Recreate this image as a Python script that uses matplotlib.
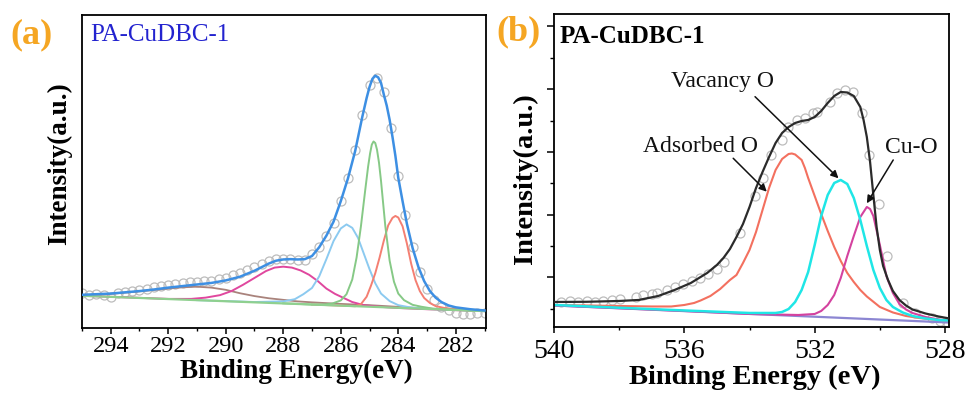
import matplotlib
matplotlib.use("Agg")
import matplotlib.pyplot as plt
from matplotlib.ticker import MultipleLocator

plt.rcParams['font.family'] = ['Liberation Serif', 'DejaVu Serif']

# ---------------- panel (a): C 1s ----------------
c_raw_x = [295.0, 294.75, 294.5, 294.25, 294.0, 293.75, 293.5, 293.25, 293.0, 292.75,
           292.5, 292.25, 292.0, 291.75, 291.5, 291.25, 291.0, 290.75, 290.5, 290.25,
           290.0, 289.75, 289.5, 289.25, 289.0, 288.75, 288.5, 288.25, 288.0, 287.75,
           287.5, 287.25, 287.0, 286.75, 286.5, 286.25, 286.0, 285.75, 285.5, 285.25,
           285.0, 284.75, 284.5, 284.25, 284.0, 283.75, 283.5, 283.25, 283.0, 282.75,
           282.5, 282.25, 282.0, 281.75, 281.5, 281.25, 281.0]
c_raw_y = [11.1, 10.4, 10.9, 10.7, 9.9, 11.1, 11.6, 11.9, 12.3, 12.6,
           13.0, 13.4, 13.7, 14.0, 14.3, 14.6, 14.7, 15.0, 15.1, 15.6,
           16.0, 16.8, 17.5, 18.4, 19.4, 20.5, 21.3, 21.9, 22.2, 22.1,
           21.8, 21.8, 23.6, 26.0, 29.5, 33.7, 40.5, 48.0, 57.0, 68.0,
           77.5, 80.0, 75.5, 64.0, 48.5, 36.0, 26.0, 17.8, 12.4, 9.0,
           6.8, 5.6, 4.8, 4.6, 4.6, 4.7, 4.8]

c_fit_x = [295.0, 294.5, 294.0, 293.5, 293.0, 292.5, 292.0, 291.5, 291.0, 290.5,
           290.0, 289.5, 289.0, 288.5, 288.25, 288.0, 287.75, 287.5, 287.25, 287.0,
           286.75, 286.5, 286.25, 286.0, 285.75, 285.5, 285.25, 285.1, 285.0, 284.9,
           284.8, 284.7, 284.6, 284.5, 284.4, 284.3, 284.2, 284.1, 284.0, 283.85,
           283.7, 283.5, 283.3, 283.1, 282.9, 282.7, 282.5, 282.25, 282.0, 281.5, 281.0]
c_fit_y = [10.6, 10.8, 11.0, 11.4, 11.8, 12.3, 12.9, 13.4, 13.9, 14.4,
           15.2, 16.4, 18.3, 20.6, 21.5, 21.9, 22.0, 21.9, 22.0, 23.0,
           25.8, 29.5, 34.0, 40.5, 47.8, 56.5, 67.5, 73.5, 77.0, 79.6,
           80.6, 80.1, 78.3, 74.5, 71.0, 66.5, 61.0, 55.0, 48.0, 40.5,
           33.3, 25.5, 19.5, 15.0, 11.8, 9.7, 8.3, 7.2, 6.6, 6.0, 5.6]

c_base_x = [295.0, 281.0]
c_base_y = [10.3, 5.4]

c_red_x = [287.0, 286.0, 285.5, 285.3, 285.1, 284.95, 284.8, 284.65, 284.5, 284.35,
           284.2, 284.1, 284.0, 283.85, 283.7, 283.55, 283.4, 283.25, 283.1, 282.9,
           282.7, 282.4, 282.0, 281.5, 281.0]
c_red_y = [7.5, 7.15, 6.95, 7.6, 10.0, 13.5, 17.5, 22.5, 28.0, 32.8,
           35.2, 35.8, 35.3, 32.5, 27.0, 20.5, 15.3, 11.8, 9.6, 8.0,
           7.0, 6.4, 6.0, 5.6, 5.4]

c_green_x = [288.0, 287.0, 286.6, 286.3, 286.0, 285.8, 285.6, 285.45, 285.3, 285.15,
             285.05, 284.98, 284.92, 284.86, 284.8, 284.74, 284.67, 284.6, 284.45, 284.3,
             284.15, 284.0, 283.8, 283.5, 283.2, 282.8, 282.0, 281.0]
c_green_y = [7.9, 7.5, 7.5, 7.8, 8.8, 10.8, 15.5, 22.5, 32.4, 44.0,
             51.5, 55.8, 58.6, 59.6, 59.1, 57.0, 52.8, 47.0, 32.5, 21.5,
             14.8, 11.0, 8.9, 7.4, 6.8, 6.2, 5.8, 5.4]

c_lblue_x = [291.0, 290.0, 289.0, 288.0, 287.6, 287.3, 287.0, 286.75, 286.5, 286.25,
             286.0, 285.8, 285.6, 285.4, 285.2, 285.0, 284.8, 284.6, 284.3, 284.0,
             283.6, 283.0, 282.0, 281.0]
c_lblue_y = [8.9, 8.6, 8.3, 8.5, 9.2, 10.8, 12.8, 16.5, 22.0, 27.8,
             31.8, 33.1, 32.0, 28.8, 23.8, 18.8, 14.3, 11.0, 8.6, 7.3,
             6.6, 6.1, 5.8, 5.4]

c_mag_x = [295.0, 293.5, 292.0, 291.2, 290.7, 290.2, 289.8, 289.4, 289.0, 288.6,
           288.3, 288.0, 287.7, 287.4, 287.1, 286.8, 286.5, 286.2, 285.9, 285.6,
           285.2, 284.7, 284.0, 283.0, 282.0, 281.0]
c_mag_y = [10.3, 9.8, 9.3, 9.3, 9.7, 10.5, 11.8, 13.8, 16.0, 18.2,
           19.3, 19.6, 19.3, 18.4, 17.0, 15.0, 12.6, 10.9, 9.6, 8.3,
           7.3, 6.8, 6.4, 6.0, 5.7, 5.4]

c_brown_x = [295.0, 294.0, 293.0, 292.0, 291.5, 291.0, 290.5, 290.0, 289.5, 289.0,
             288.5, 288.0, 287.5, 287.0, 286.0, 285.0, 283.0, 281.0]
c_brown_y = [10.4, 10.9, 11.7, 12.6, 13.0, 13.2, 12.9, 12.2, 11.1, 10.2,
             9.5, 9.0, 8.5, 8.2, 7.7, 7.3, 6.2, 5.5]

# ---------------- panel (b): O 1s ----------------
o_raw_x = [539.79, 539.51, 539.25, 539.0, 538.74, 538.49, 538.23, 537.97, 537.49, 537.26,
           537.0, 536.85, 536.54, 536.29, 536.03, 535.77, 535.52, 535.26, 535.01, 534.77,
           534.29, 533.83, 533.58, 533.35, 533.01, 532.81, 532.55, 532.3, 532.04, 531.94,
           531.53, 531.3, 531.07, 530.81, 530.56, 530.32, 530.02, 529.77, 529.28, 528.92,
           528.41, 528.15, 527.95]
o_raw_y = [38.3, 39.0, 38.3, 39.3, 38.3, 39.0, 40.0, 40.7, 43.3, 45.0,
           46.0, 46.5, 50.0, 53.3, 56.0, 59.0, 62.0, 66.0, 70.5, 78.3,
           107.0, 144.0, 162.0, 185.0, 200.0, 213.0, 220.0, 221.7, 227.3, 228.3,
           238.3, 246.7, 250.0, 248.3, 227.0, 185.0, 136.0, 84.0, 36.7, 26.7,
           21.7, 19.3, 18.3]

o_fit_x = [540.0, 539.0, 538.0, 537.4, 536.8, 536.3, 535.8, 535.3, 535.0, 534.8,
           534.6, 534.4, 534.2, 534.0, 533.8, 533.6, 533.4, 533.2, 533.0, 532.8,
           532.6, 532.4, 532.2, 532.0, 531.8, 531.6, 531.4, 531.2, 531.0, 530.8,
           530.6, 530.5, 530.4, 530.3, 530.2, 530.1, 530.0, 529.9, 529.75, 529.6,
           529.4, 529.2, 529.0, 528.6, 528.2, 527.9]
o_fit_y = [38.0, 38.2, 39.0, 40.0, 44.0, 50.0, 57.0, 67.0, 75.0, 82.0,
           91.0, 103.0, 116.0, 133.0, 152.0, 168.0, 183.0, 197.0, 207.0, 213.0,
           217.0, 219.0, 220.0, 223.0, 229.0, 237.0, 244.0, 248.0, 247.5, 244.0,
           233.0, 220.0, 203.0, 178.0, 145.0, 113.0, 90.0, 74.0, 60.0, 49.0,
           40.0, 34.5, 30.5, 26.5, 23.5, 21.7]

o_base_x = [540.0, 527.9]
o_base_y = [34.5, 17.5]

o_ads_x = [540.0, 539.0, 538.0, 537.0, 536.4, 536.0, 535.7, 535.5, 535.2, 534.9,
           534.6, 534.4, 534.2, 534.0, 533.8, 533.6, 533.4, 533.2, 533.0, 532.8,
           532.7, 532.6, 532.4, 532.3, 532.2, 532.0, 531.8, 531.6, 531.4, 531.2,
           531.0, 530.8, 530.6, 530.4, 530.0, 529.6, 529.2, 528.8, 528.4, 527.9]
o_ads_y = [35.0, 34.5, 34.0, 33.5, 33.5, 35.0, 37.0, 39.5, 44.0, 51.0,
           60.0, 65.0, 77.0, 90.0, 108.0, 130.0, 152.0, 170.0, 181.0, 186.0,
           186.5, 185.5, 180.0, 172.0, 162.0, 144.0, 126.0, 109.0, 93.0, 79.0,
           67.0, 58.0, 50.0, 43.5, 33.0, 27.5, 24.0, 22.0, 20.5, 19.5]

o_vac_x = [540.0, 536.0, 534.0, 533.2, 533.0, 532.8, 532.6, 532.4, 532.2, 532.0,
           531.8, 531.6, 531.4, 531.2, 531.0, 530.8, 530.6, 530.4, 530.2, 530.0,
           529.8, 529.6, 529.3, 529.0, 528.6, 528.2, 527.9]
o_vac_y = [35.0, 29.5, 27.0, 27.0, 28.0, 31.0, 38.0, 50.0, 68.0, 95.0,
           124.0, 145.0, 157.0, 160.0, 156.0, 142.0, 120.0, 94.0, 70.0, 52.0,
           40.0, 33.0, 27.5, 24.0, 21.5, 20.0, 19.5]

o_cuo_x = [540.0, 536.0, 534.0, 532.5, 532.0, 531.8, 531.6, 531.4, 531.2, 531.0,
           530.8, 530.6, 530.4, 530.3, 530.2, 530.0, 529.8, 529.6, 529.4, 529.2,
           529.0, 528.6, 528.2, 527.9]
o_cuo_y = [34.5, 29.0, 26.0, 25.0, 26.0, 29.0, 35.0, 45.0, 62.0, 84.0,
           104.0, 123.0, 133.0, 131.0, 124.0, 95.0, 64.0, 47.0, 36.0, 30.5,
           27.0, 23.0, 20.5, 19.5]

# annotations: label text centre, arrow tail, arrow tip (data coords)
o_labels = ["Vacancy O", "Adsorbed O", "Cu-O"]
o_lab_pos = [(534.84, 258.3), (535.49, 193.3), (529.02, 192.0)]
o_tail = [(533.83, 243.3), (534.5, 181.7), (529.59, 180.0)]
o_tip = [(531.27, 161.7), (533.47, 148.3), (530.40, 136.7)]

fig = plt.figure(figsize=(9.7, 3.94), dpi=100)
ax1 = fig.add_axes([0.0845, 0.1675, 0.4165, 0.7944])
ax2 = fig.add_axes([0.5711, 0.1701, 0.4072, 0.7944])

raw_kw = dict(ls='none', marker='o', ms=6.5, mfc='none', mec='#bcbcbc', mew=0.9, zorder=1)

# panel a
ax1.plot(c_raw_x, c_raw_y, **raw_kw)
ax1.plot(c_brown_x, c_brown_y, color='#a9837c', lw=1.3, zorder=2)
ax1.plot(c_mag_x, c_mag_y, color='#e0479e', lw=1.4, zorder=2)
ax1.plot(c_lblue_x, c_lblue_y, color='#8ccaf0', lw=1.4, zorder=2)
ax1.plot(c_red_x, c_red_y, color='#f47f72', lw=1.4, zorder=2)
ax1.plot(c_green_x, c_green_y, color='#86c986', lw=1.4, zorder=2)
ax1.plot(c_base_x, c_base_y, color='#8fd08f', lw=1.6, zorder=2)
ax1.plot(c_fit_x, c_fit_y, color='#3d8fe3', lw=1.8, zorder=3)

ax1.set_xlim(295.0, 280.95)
ax1.set_ylim(0, 100)
ax1.xaxis.set_major_locator(MultipleLocator(2))
ax1.xaxis.set_minor_locator(MultipleLocator(1))
ax1.set_yticks([])
ax1.tick_params(axis='x', which='major', direction='out', length=4, width=1.1,
                labelsize=17.5, pad=2)
ax1.tick_params(axis='x', which='minor', direction='out', length=2.2, width=1.0)
for s in ax1.spines.values():
    s.set_linewidth(1.3)
ax1.text(0.02, 0.936, 'PA-CuDBC-1', transform=ax1.transAxes, color='#2323cf',
         fontsize=18, ha='left', va='center')
ax1.set_xlabel('Binding Energy(eV)', fontsize=19.5, fontweight='bold')
ax1.xaxis.set_label_coords(0.53, -0.1)
ax1.set_ylabel('Intensity(a.u.)', fontsize=19.5, fontweight='bold')
ax1.yaxis.set_label_coords(-0.025, 0.524)

# panel b
ax2.plot(o_raw_x, o_raw_y, **raw_kw)
ax2.plot(o_base_x, o_base_y, color='#8c86d2', lw=1.6, zorder=2)
ax2.plot(o_ads_x, o_ads_y, color='#f3705f', lw=1.5, zorder=2)
ax2.plot(o_cuo_x, o_cuo_y, color='#d4429f', lw=1.5, zorder=2)
ax2.plot(o_vac_x, o_vac_y, color='#1fe6e6', lw=1.8, zorder=2)
ax2.plot(o_fit_x, o_fit_y, color='#2b2b2b', lw=1.6, zorder=3)

for lab, p, tl, tp in zip(o_labels, o_lab_pos, o_tail, o_tip):
    ax2.text(p[0], p[1], lab, fontsize=17, ha='center', va='center', color='#111111')
    ax2.annotate('', xy=tp, xytext=tl,
                 arrowprops=dict(arrowstyle='-|>', color='#111111', lw=1.1,
                                 mutation_scale=11, shrinkA=0, shrinkB=0))

ax2.set_xlim(540.0, 527.88)
ax2.set_ylim(13.0, 326.0)
ax2.xaxis.set_major_locator(MultipleLocator(4))
ax2.xaxis.set_minor_locator(MultipleLocator(2))
ax2.yaxis.set_major_locator(MultipleLocator(62.7))
ax2.yaxis.set_minor_locator(MultipleLocator(31.35))
ax2.tick_params(axis='x', which='major', direction='out', length=4, width=1.1,
                labelsize=20, pad=4.5)
ax2.tick_params(axis='x', which='minor', direction='out', length=2.2, width=1.0)
ax2.tick_params(axis='y', which='major', direction='out', length=5, width=1.1,
                labelleft=False)
ax2.tick_params(axis='y', which='minor', direction='out', length=2.8, width=1.0)
for s in ax2.spines.values():
    s.set_linewidth(1.3)
ax2.text(0.015, 0.927, 'PA-CuDBC-1', transform=ax2.transAxes, color='black',
         fontsize=18, fontweight='bold', ha='left', va='center')
ax2.set_xlabel('Binding Energy (eV)', fontsize=20.5, fontweight='bold')
ax2.xaxis.set_label_coords(0.509, -0.12)
ax2.set_ylabel('Intensity(a.u.)', fontsize=20.5, fontweight='bold')
ax2.yaxis.set_label_coords(-0.04, 0.473)

# panel letters
fig.text(0.0103, 0.911, '(a)', color='#f5a623', fontsize=26, fontweight='bold',
         ha='left', va='center')
fig.text(0.512, 0.919, '(b)', color='#f5a623', fontsize=26, fontweight='bold',
         ha='left', va='center')

fig.savefig('out.png', dpi=100)
